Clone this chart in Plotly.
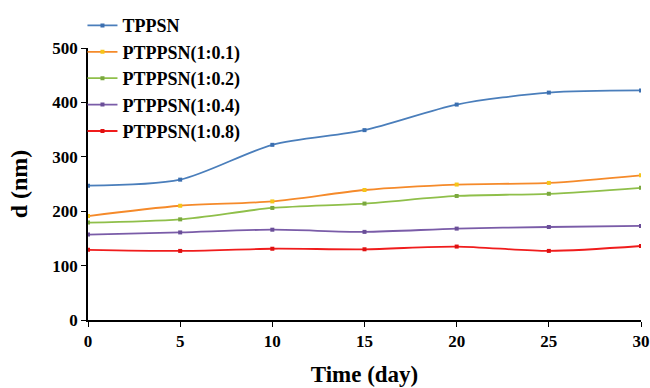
import plotly.graph_objects as go

days = [0, 5, 10, 15, 20, 25, 30]
tppsn = [247, 258, 322, 349, 396, 418, 422]
p01 = [191, 210, 218, 239, 249, 252, 266]
p02 = [179, 185, 206, 214, 228, 232, 243]
p04 = [157, 161, 166, 162, 168, 171, 173]
p08 = [129, 127, 131, 130, 135, 127, 136]

names = ["TPPSN", "PTPPSN(1:0.1)", "PTPPSN(1:0.2)", "PTPPSN(1:0.4)", "PTPPSN(1:0.8)"]
series = [tppsn, p01, p02, p04, p08]
colors = ["#4a7ebb", "#f58a2a", "#8fbf4a", "#7a5ca8", "#f01c1c"]
mcolors = ["#3b6fb0", "#f5c518", "#7aa83e", "#6a4e98", "#e01010"]

fig = go.Figure()
for n, s, c, mc in zip(names, series, colors, mcolors):
    fig.add_trace(go.Scatter(
        x=days, y=s, name=n, mode="lines+markers",
        line=dict(color=c, width=1.8, shape="spline", smoothing=0.8),
        marker=dict(color=mc, size=4, symbol="square"),
    ))

font_family = "Liberation Serif, Times New Roman, serif"
fig.update_layout(
    width=650, height=388,
    margin=dict(l=88, r=9, t=48, b=68, autoexpand=False),
    paper_bgcolor="white", plot_bgcolor="white",
    font=dict(family=font_family, color="black"),
    showlegend=True,
    legend=dict(
        x=-0.01, y=1.15, xanchor="left", yanchor="top",
        font=dict(family=font_family, size=18, color="black", weight="bold"),
        bgcolor="rgba(0,0,0,0)", itemwidth=30,
    ),
    xaxis=dict(
        range=[0, 30], tickvals=days, showline=True, linecolor="black", linewidth=1.5,
        ticks="outside", ticklen=5, tickcolor="black", showgrid=False, zeroline=False,
        tickfont=dict(family=font_family, size=17, weight="bold"),
        title=dict(text="Time (day)", font=dict(family=font_family, size=23, weight="bold"), standoff=16),
    ),
    yaxis=dict(
        range=[0, 500], tickvals=[0, 100, 200, 300, 400, 500], showline=True,
        linecolor="black", linewidth=1.5, ticks="outside", ticklen=5, tickcolor="black",
        showgrid=False, zeroline=False,
        tickfont=dict(family=font_family, size=17, weight="bold"),
        title=dict(text="d (nm)", font=dict(family=font_family, size=24, weight="bold"), standoff=18),
    ),
)

fig.write_html(
    "out.html",
    config={"displayModeBar": False},
    post_script="document.body.style.margin='0';document.body.style.padding='0';",
)
